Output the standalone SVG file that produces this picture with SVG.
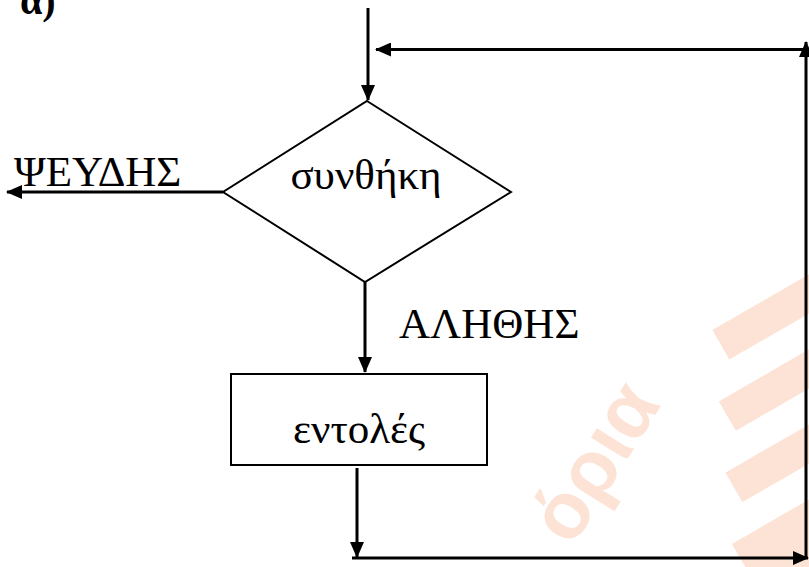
<svg xmlns="http://www.w3.org/2000/svg" width="809" height="567" viewBox="0 0 809 567">
  <defs>
    <style>
      .lbl { font-family: "Liberation Serif", "DejaVu Serif", serif; font-size: 43px; fill: #000; }
      .head { font-family: "Liberation Serif", "DejaVu Serif", serif; font-size: 40px; font-weight: bold; fill: #000; }
      .shape { fill: #fff; stroke: #000; stroke-width: 2; }
      .wire { fill: none; stroke: #000; stroke-width: 3; marker-end: url(#arrow); }
      .wm { fill: #fde3d5; }
    </style>
    <marker id="arrow" markerUnits="userSpaceOnUse" markerWidth="16" markerHeight="14" viewBox="0 0 16 14" refX="15" refY="7" orient="auto">
      <path d="M0,0 L16,7 L0,14 Z" fill="#000"/>
    </marker>
  </defs>

  <rect width="809" height="567" fill="#fff"/>

  <!-- faint background watermark -->
  <g id="watermark">
    <text class="wm" transform="translate(572,548) rotate(-58)" font-family="Liberation Sans, Arial, sans-serif" font-size="80" font-weight="bold">όρια</text>
    <g transform="translate(770,470) rotate(-30)">
      <rect class="wm" x="-40" y="-20" width="150" height="34"/>
      <rect class="wm" x="-10" y="-85" width="150" height="34"/>
      <rect class="wm" x="20" y="-150" width="150" height="34"/>
      <rect class="wm" x="-70" y="45" width="150" height="70"/>
    </g>
  </g>

  <text class="head" x="20" y="14">α)</text>

  <g id="connectors">
    <line class="wire" x1="368" y1="8" x2="368" y2="100"/>
    <line class="wire" x1="809" y1="49.5" x2="376" y2="49.5"/>
    <line class="wire" x1="806" y1="558" x2="806" y2="42"/>
    <line class="wire" x1="223" y1="192" x2="7" y2="192"/>
    <line class="wire" x1="365" y1="282" x2="365" y2="372"/>
    <line class="wire" x1="357" y1="468" x2="357" y2="557"/>
    <line class="wire" x1="352" y1="558" x2="808" y2="558"/>
  </g>

  <g id="condition">
    <polygon class="shape" points="367,101 511,192 365,282 223,192"/>
    <text class="lbl" x="366" y="189" text-anchor="middle">συνθήκη</text>
  </g>

  <g id="statements">
    <rect class="shape" x="231" y="374" width="256" height="91"/>
    <text class="lbl" x="359" y="443" text-anchor="middle">εντολές</text>
  </g>

  <g id="label-false">
    <text class="lbl" x="14" y="186">ΨΕΥΔΗΣ</text>
  </g>

  <g id="label-true">
    <text class="lbl" x="399" y="338">ΑΛΗΘΗΣ</text>
  </g>
</svg>
